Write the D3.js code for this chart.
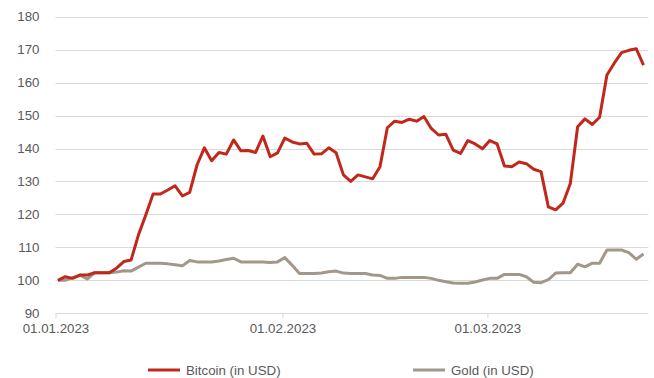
<!DOCTYPE html>
<html>
<head>
<meta charset="utf-8">
<script src="https://cdn.jsdelivr.net/npm/d3@7"></script>
<style>
  body { margin: 0; background: #fff; }
  text { font-family: 'Liberation Sans', Arial, sans-serif; }
</style>
</head>
<body>
<div class="canvas"></div>
<script>
// daily values, indexed to 100 on 01.01.2023
const bitcoin = [
  100, 101.1, 100.6, 101.6, 101.6, 102.3, 102.3, 102.3, 103.7, 105.7,
  106.2, 113.8, 119.8, 126.2, 126.2, 127.4, 128.7, 125.6, 126.7, 135,
  140.2, 136.3, 138.8, 138.3, 142.6, 139.3, 139.4, 138.8, 143.8, 137.5,
  138.7, 143.2, 142, 141.4, 141.6, 138.3, 138.4, 140.2, 138.7, 132,
  130, 132, 131.4, 130.8, 134.5, 146.3, 148.3, 147.9, 148.9, 148.3,
  149.7, 146.1, 144.1, 144.3, 139.5, 138.5, 142.4, 141.4, 139.9, 142.4,
  141.4, 134.7, 134.5, 135.9, 135.4, 133.7, 133, 122.3, 121.4, 123.4,
  129.4, 146.6, 149, 147.3, 149.5, 162.3, 165.9, 169.1, 169.8, 170.3,
  165.3
];
const gold = [
  100, 100, 100.8, 101.6, 100.4, 102.3, 102.3, 102.3, 102.5, 102.9,
  102.8, 104, 105.2, 105.2, 105.2, 105, 104.7, 104.4, 106, 105.6,
  105.6, 105.6, 105.9, 106.3, 106.7, 105.6, 105.6, 105.6, 105.6, 105.4,
  105.6, 106.9, 104.6, 102.1, 102.1, 102.1, 102.2, 102.6, 102.8, 102.2,
  102.1, 102.1, 102.1, 101.6, 101.5, 100.6, 100.6, 100.9, 100.9, 100.9,
  100.9, 100.6, 100, 99.6, 99.2, 99.1, 99.1, 99.5, 100.1, 100.6,
  100.6, 101.8, 101.8, 101.8, 101.1, 99.4, 99.3, 100.2, 102.2, 102.3,
  102.3, 104.9, 104.1, 105.2, 105.2, 109.2, 109.2, 109.2, 108.4, 106.4,
  108
];
const seriesNames = ['Bitcoin (in USD)', 'Gold (in USD)'];
const yTicks = [90, 100, 110, 120, 130, 140, 150, 160, 170, 180];
const xTicks = [new Date(2023, 0, 1), new Date(2023, 1, 1), new Date(2023, 2, 1)];

const start = new Date(2023, 0, 1, 8);
const dates = bitcoin.map((v, i) => d3.timeHour.offset(start, i * 24));

const width = 654, height = 378;
const red = '#c0281c', grey = '#a1978b', textColor = '#595959';

const svg = d3.select('.canvas').append('svg')
    .attr('width', width)
    .attr('height', height);

const x = d3.scaleTime()
    .domain([new Date(2023, 0, 1), new Date(2023, 2, 23)])
    .range([55.5, 648.4]);

const y = d3.scaleLinear()
    .domain([90, 180])
    .range([313.3, 16.7]);

// gridlines
svg.append('g')
    .selectAll('line')
    .data(yTicks)
    .join('line')
    .attr('x1', x.range()[0])
    .attr('x2', x.range()[1])
    .attr('y1', d => Math.round(y(d)) + 0.5)
    .attr('y2', d => Math.round(y(d)) + 0.5)
    .attr('stroke', '#d9d9d9')
    .attr('stroke-width', 1);

// y labels
svg.append('g')
    .selectAll('text')
    .data(yTicks)
    .join('text')
    .attr('x', 39.5)
    .attr('y', d => y(d) + 4.7)
    .attr('text-anchor', 'end')
    .attr('fill', textColor)
    .style('font-size', '13.3px')
    .text(d => d);

// x axis
const xAxis = d3.axisBottom(x)
    .tickValues(xTicks)
    .tickSize(5)
    .tickFormat(d3.timeFormat('%d.%m.%Y'));

const gx = svg.append('g')
    .attr('transform', `translate(0, ${Math.round(y(90)) + 0.5})`)
    .call(xAxis);
gx.select('.domain').remove();
gx.selectAll('.tick line').attr('stroke', '#d9d9d9');
gx.selectAll('.tick text')
    .attr('fill', textColor)
    .attr('dy', null)
    .attr('y', 19)
    .style('font-family', "'Liberation Sans', Arial, sans-serif")
    .style('font-size', '13.3px');

// lines
const line = d3.line()
    .x((d, i) => x(dates[i]))
    .y(d => y(d));

svg.append('path')
    .datum(gold)
    .attr('d', line)
    .attr('fill', 'none')
    .attr('stroke', grey)
    .attr('stroke-width', 3)
    .attr('stroke-linejoin', 'round');

svg.append('path')
    .datum(bitcoin)
    .attr('d', line)
    .attr('fill', 'none')
    .attr('stroke', red)
    .attr('stroke-width', 3)
    .attr('stroke-linejoin', 'round');

// legend
const legendX = [148, 413];
const legend = svg.append('g')
    .selectAll('g')
    .data(seriesNames)
    .join('g')
    .attr('transform', (d, i) => `translate(${legendX[i]}, 370)`);

legend.append('line')
    .attr('x1', 0)
    .attr('x2', 32)
    .attr('stroke', (d, i) => i === 0 ? red : grey)
    .attr('stroke-width', 3);

legend.append('text')
    .attr('x', 38)
    .attr('y', 4.7)
    .attr('fill', textColor)
    .style('font-size', '13.3px')
    .text(d => d);
</script>
</body>
</html>
